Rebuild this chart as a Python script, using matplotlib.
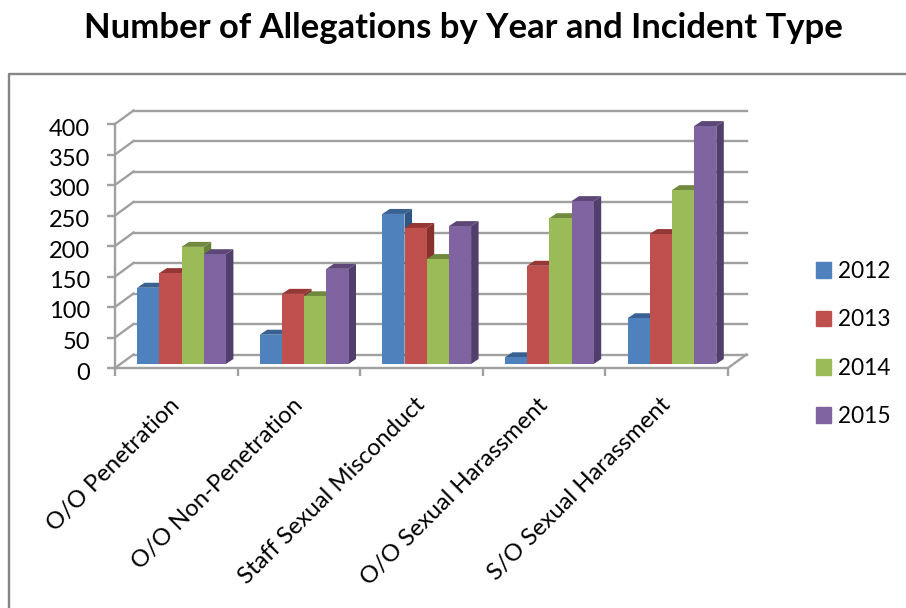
import numpy as np
import matplotlib.pyplot as plt
from matplotlib.lines import Line2D
from matplotlib.patches import Patch
from matplotlib.transforms import ScaledTranslation

plt.rcParams['font.family'] = ['Lato', 'DejaVu Sans']

categories = ['O/O Penetration', 'O/O Non-Penetration', 'Staff Sexual Misconduct',
              'O/O Sexual Harassment', 'S/O Sexual Harassment']
years = ['2012', '2013', '2014', '2015']
v2012 = [125, 48, 246, 11, 75]
v2013 = [149, 115, 223, 161, 213]
v2014 = [192, 111, 172, 239, 285]
v2015 = [180, 156, 226, 267, 390]
y_ticks = [0, 50, 100, 150, 200, 250, 300, 350, 400]

front = ['#4F81BD', '#C0504D', '#9BBB59', '#8064A2']
top = ['#386192', '#953735', '#71893F', '#5C4776']
side = ['#2F5785', '#87302E', '#68803A', '#523E6A']
grid = '#A0A0A0'

W, H = 906, 608
fig = plt.figure(figsize=(W / 100, H / 100), dpi=100)
ax = fig.add_axes([115 / W, (H - 368) / H, (728 - 115) / W, (368 - 124) / H])
ax.set_xlim(-0.5, 4.5)
ax.set_ylim(0, 400)

# pixel sizes turned into data units
px_x = 5 / (728 - 115)
px_y = 400 / (368 - 124)

# back wall and side wall
back_dx, back_dy = 18.5 * px_x, 13.5 * px_y
for t in y_ticks:
    ax.plot([-0.5, -0.5 + back_dx], [t, t + back_dy], color=grid, lw=1.7, clip_on=False, zorder=1)
    ax.plot([-0.5 + back_dx, 4.5 + back_dx], [t + back_dy, t + back_dy], color=grid, lw=1.7,
            clip_on=False, zorder=1)
ax.plot([4.5, 4.5 + back_dx], [0, back_dy], color=grid, lw=1.7, clip_on=False, zorder=1)

# bars, left to right so each front covers the side of the one before
bar_w = 22.2 * px_x
base = 4 * px_y
shift = 5.2 * px_x
dx, dy = 7.5 * px_x, 5 * px_y
series = [v2012, v2013, v2014, v2015]
z = 2
for c in range(len(categories)):
    for s, vals in enumerate(series):
        x0 = c + shift + (s - 2) * bar_w
        x1 = x0 + bar_w
        y1 = vals[c] + base
        ax.fill([x1, x1 + dx, x1 + dx, x1], [base, base + dy, y1 + dy, y1], color=side[s],
                lw=0, clip_on=False, zorder=z)
        ax.fill([x0, x1, x1 + dx, x0 + dx], [y1, y1, y1 + dy, y1 + dy], color=top[s],
                lw=0, clip_on=False, zorder=z)
        ax.bar(x0, vals[c], width=bar_w, bottom=base, align='edge', color=front[s],
               clip_on=False, zorder=z + 0.5)
        z += 1

for name in ['top', 'right']:
    ax.spines[name].set_visible(False)
for name in ['left', 'bottom']:
    ax.spines[name].set_color(grid)
    ax.spines[name].set_linewidth(1.7)

ax.set_yticks(y_ticks)
ax.tick_params(axis='y', labelsize=17, length=6, width=1.7, color=grid, pad=12, labelcolor='black')
ax.set_xticks(np.arange(-0.5, 5, 1), minor=True)
ax.tick_params(axis='x', which='minor', length=5.5, width=1.7, color=grid)
ax.set_xticks(range(5))
ax.set_xticklabels(categories, rotation=45, ha='right', va='top', rotation_mode='anchor', fontsize=17.2)
ax.tick_params(axis='x', which='major', length=0, pad=16)

# nudge the labels to where the reference has them
for lab in ax.get_yticklabels():
    lab.set_transform(lab.get_transform() + ScaledTranslation(0, -3 / 100, fig.dpi_scale_trans))
for lab in ax.get_xticklabels():
    lab.set_transform(lab.get_transform() + ScaledTranslation(-7 / 100, -4 / 100, fig.dpi_scale_trans))

handles = [Patch(color=c) for c in front]
fig.legend(handles, years, loc='center left', bbox_to_anchor=(816 / W, (H - 344) / H), frameon=False,
           fontsize=16.3, handlelength=0.68, handleheight=0.68, handletextpad=0.3,
           labelspacing=1.21, borderpad=0, borderaxespad=0)

fig.text(463 / W, (H - 28) / H, 'Number of Allegations by Year and Incident Type', ha='center', va='center',
         fontsize=24.9, fontweight='bold')

# outer frame of the pasted chart
fig.add_artist(Line2D([9 / W, 9 / W, 1], [0, (H - 74) / H, (H - 74) / H], color='#868686', lw=1.7))

fig.savefig('out.png', dpi=100)
